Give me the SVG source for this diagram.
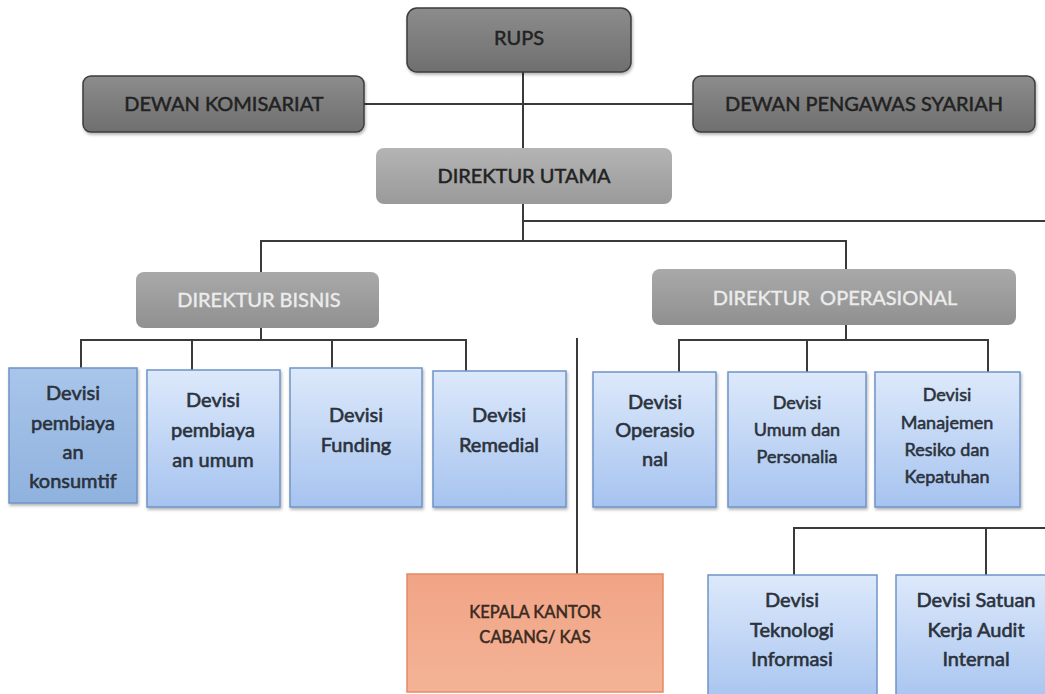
<svg xmlns="http://www.w3.org/2000/svg" width="1045" height="694" viewBox="0 0 1045 694">
<defs>
<linearGradient id="gDark" x1="0" y1="0" x2="0" y2="1"><stop offset="0" stop-color="#8c8c8c"/><stop offset="1" stop-color="#6f6f6f"/></linearGradient>
<linearGradient id="gMid" x1="0" y1="0" x2="0" y2="1"><stop offset="0" stop-color="#b4b4b4"/><stop offset="1" stop-color="#9a9a9a"/></linearGradient>
<linearGradient id="gDir" x1="0" y1="0" x2="0" y2="1"><stop offset="0" stop-color="#a9a9a9"/><stop offset="1" stop-color="#909090"/></linearGradient>
<linearGradient id="gBlue" x1="0" y1="0" x2="0" y2="1"><stop offset="0" stop-color="#dde9fb"/><stop offset="1" stop-color="#a6c3ef"/></linearGradient>
<linearGradient id="gBlueDark" x1="0" y1="0" x2="0" y2="1"><stop offset="0" stop-color="#a9c5ea"/><stop offset="1" stop-color="#8fb2de"/></linearGradient>
<linearGradient id="gOrange" x1="0" y1="0" x2="0" y2="1"><stop offset="0" stop-color="#f1a486"/><stop offset="1" stop-color="#f4b396"/></linearGradient>
<filter id="sh" x="-10%" y="-10%" width="120%" height="130%"><feDropShadow dx="1" dy="2" stdDeviation="1.5" flood-color="#000" flood-opacity="0.3"/></filter>
</defs>
<style>
.top{fill:url(#gDark);stroke:#3c3c3c;stroke-width:1.5}
.mid{fill:url(#gMid)}
.dir{fill:url(#gDir)}
.blue{fill:url(#gBlue);stroke:#6f94c8;stroke-width:1.5}
.blued{fill:url(#gBlueDark);stroke:#6f94c8;stroke-width:1.5}
.org{fill:url(#gOrange);stroke:#e28a66;stroke-width:1.5}
text{font-family:Lato,"Open Sans","Liberation Sans",sans-serif;text-anchor:middle}
.t1{font-size:20px;fill:#222222;stroke:#222222;stroke-width:0.5}
.tw{font-size:20px;fill:#ececec;stroke:#ececec;stroke-width:0.4}
.tb{font-size:20px;fill:#2b323c;stroke:#2b323c;stroke-width:0.6}
.ts{font-size:18px;fill:#2b323c;stroke:#2b323c;stroke-width:0.55}
.tk{font-size:16.5px;fill:#3a2a22;stroke:#3a2a22;stroke-width:0.5}
.conn{fill:none;stroke:#3a3a3a;stroke-width:2}
</style>
<rect width="1045" height="694" fill="#ffffff"/>
<g id="connectors">
<path class="conn" d="M364 104 H693"/>
<path class="conn" d="M523 72 V148"/>
<path class="conn" d="M523 204 V241"/>
<path class="conn" d="M523 221 H1045"/>
<path class="conn" d="M261 272 V241 H846 V269"/>
<path class="conn" d="M261 328 V340"/>
<path class="conn" d="M81 368 V340 H466 V371"/>
<path class="conn" d="M192 340 V370"/>
<path class="conn" d="M332 340 V368"/>
<path class="conn" d="M846 325 V340"/>
<path class="conn" d="M679 372 V340 H988 V372"/>
<path class="conn" d="M807 340 V372"/>
<path class="conn" d="M577 338 V574"/>
<path class="conn" d="M794 575 V528 H1045"/>
<path class="conn" d="M986 528 V575"/>
</g>
<g id="rups"><rect class="top" x="407" y="8" width="224" height="64" rx="10" filter="url(#sh)"/><text class="t1" x="519" y="45">RUPS</text></g>
<g id="dewan-komisariat"><rect class="top" x="83" y="76" width="281" height="56" rx="8" filter="url(#sh)"/><text class="t1" x="224" y="111">DEWAN KOMISARIAT</text></g>
<g id="dewan-pengawas-syariah"><rect class="top" x="693" y="76" width="342" height="56" rx="8" filter="url(#sh)"/><text class="t1" x="864" y="111">DEWAN PENGAWAS SYARIAH</text></g>
<g id="direktur-utama"><rect class="mid" x="376" y="148" width="296" height="56" rx="8"/><text class="t1" x="524" y="183">DIREKTUR UTAMA</text></g>
<g id="direktur-bisnis"><rect class="dir" x="136" y="272" width="243" height="56" rx="8"/><text class="tw" x="259" y="307">DIREKTUR BISNIS</text></g>
<g id="direktur-operasional"><rect class="dir" x="652" y="269" width="364" height="56" rx="8"/><text class="tw" x="835" y="305" xml:space="preserve">DIREKTUR  OPERASIONAL</text></g>
<g id="devisi-konsumtif"><rect class="blued" x="9" y="368" width="128" height="135" filter="url(#sh)"/><text class="tb" x="73" y="400">Devisi</text><text class="tb" x="73" y="430">pembiaya</text><text class="tb" x="73" y="459">an</text><text class="tb" x="73" y="488">konsumtif</text></g>
<g id="devisi-umum"><rect class="blue" x="147" y="370" width="133" height="137" filter="url(#sh)"/><text class="tb" x="213" y="407">Devisi</text><text class="tb" x="213" y="437">pembiaya</text><text class="tb" x="213" y="467">an umum</text></g>
<g id="devisi-funding"><rect class="blue" x="290" y="368" width="132" height="139" filter="url(#sh)"/><text class="tb" x="356" y="422">Devisi</text><text class="tb" x="356" y="452">Funding</text></g>
<g id="devisi-remedial"><rect class="blue" x="433" y="371" width="133" height="136" filter="url(#sh)"/><text class="tb" x="499" y="422">Devisi</text><text class="tb" x="499" y="452">Remedial</text></g>
<g id="devisi-operasional"><rect class="blue" x="593" y="372" width="123" height="135" filter="url(#sh)"/><text class="tb" x="655" y="409">Devisi</text><text class="tb" x="655" y="437">Operasio</text><text class="tb" x="655" y="466">nal</text></g>
<g id="devisi-personalia"><rect class="blue" x="728" y="372" width="138" height="135" filter="url(#sh)"/><text class="ts" x="797" y="409">Devisi</text><text class="ts" x="797" y="436">Umum dan</text><text class="ts" x="797" y="463">Personalia</text></g>
<g id="devisi-resiko"><rect class="blue" x="875" y="372" width="145" height="135" filter="url(#sh)"/><text class="ts" x="947" y="401">Devisi</text><text class="ts" x="947" y="429">Manajemen</text><text class="ts" x="947" y="456">Resiko dan</text><text class="ts" x="947" y="483">Kepatuhan</text></g>
<g id="kepala-kantor"><rect class="org" x="407" y="574" width="256" height="118"/><text class="tk" x="535" y="618">KEPALA KANTOR</text><text class="tk" x="535" y="643">CABANG/ KAS</text></g>
<g id="devisi-ti"><rect class="blue" x="708" y="575" width="169" height="130"/><text class="tb" x="792" y="607">Devisi</text><text class="tb" x="792" y="637">Teknologi</text><text class="tb" x="792" y="666">Informasi</text></g>
<g id="devisi-skai"><rect class="blue" x="896" y="575" width="160" height="130"/><text class="tb" x="976" y="607">Devisi Satuan</text><text class="tb" x="976" y="637">Kerja Audit</text><text class="tb" x="976" y="666">Internal</text></g>
</svg>
